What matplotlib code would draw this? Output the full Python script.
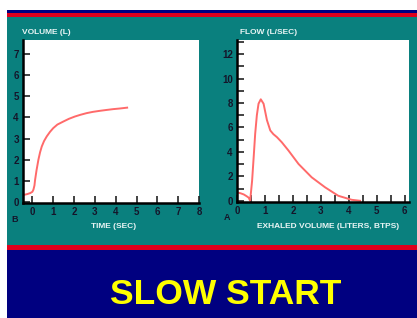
#!/usr/bin/env python3
"""Spirometry slide: volume-time and flow-volume curves, 'slow start'."""

import matplotlib
matplotlib.use("Agg")
import matplotlib.pyplot as plt
from matplotlib.patches import Rectangle
from matplotlib.ticker import MultipleLocator

# panel B: volume-time curve
time_sec = [-0.43, -0.25, -0.1, 0.0, 0.05, 0.1, 0.13, 0.2, 0.29, 0.37, 0.45, 0.56,
            0.69, 0.85, 1.0, 1.2, 1.48, 1.75, 2.04, 2.3, 2.6, 2.9, 3.24, 3.55, 3.88, 4.2, 4.55]
volume_l = [0.33, 0.37, 0.42, 0.48, 0.58, 0.78, 1.04, 1.5, 2.0, 2.35, 2.62, 2.88,
            3.1, 3.32, 3.49, 3.66, 3.8, 3.93, 4.04, 4.12, 4.2, 4.26, 4.31, 4.35, 4.39, 4.42, 4.46]

# panel A: flow-volume curve
exhaled_l = [0.01, 0.12, 0.24, 0.34, 0.42, 0.47, 0.54, 0.6, 0.65, 0.71, 0.77, 0.85,
             0.95, 1.07, 1.19, 1.3, 1.43, 1.6, 1.84, 2.2, 2.67, 3.15, 3.62, 4.1, 4.4]
flow_lps = [0.68, 0.62, 0.52, 0.38, 0.25, 0.0, 1.64, 3.7, 5.48, 7.0, 7.94, 8.3,
            7.94, 6.6, 5.75, 5.45, 5.2, 4.79, 4.11, 3.01, 1.92, 1.1, 0.41, 0.08, 0.0]

W, H = 417, 318
TEAL = "#0a807e"
NAVY = "#000080"
RED = "#e0001c"
CURVE = "#ff6a6a"


def band(fig, x0, y0, x1, y1, color):
    fig.add_artist(Rectangle((x0 / W, 1 - y1 / H), (x1 - x0) / W, (y1 - y0) / H,
                             transform=fig.transFigure, color=color, lw=0, zorder=-10))


def axes_px(fig, x0, y0, x1, y1):
    return fig.add_axes([x0 / W, 1 - y1 / H, (x1 - x0) / W, (y1 - y0) / H])


def style(ax):
    ax.set_facecolor("white")
    for side in ("top", "right"):
        ax.spines[side].set_visible(False)
    for side in ("left", "bottom"):
        ax.spines[side].set_linewidth(1.8)
        ax.spines[side].set_color("black")
    ax.tick_params(which="both", direction="in", length=5, width=1.2, color="#222222",
                   labelsize=7, labelcolor="#15152a", pad=3)
    for lab in ax.get_xticklabels() + ax.get_yticklabels():
        lab.set_fontweight("bold")


plt.rcParams["font.family"] = ["Liberation Sans", "DejaVu Sans"]

fig = plt.figure(figsize=(W / 100, H / 100), dpi=100)
fig.patch.set_facecolor("white")

band(fig, 7, 10, W, 13, NAVY)
band(fig, 7, 13, W, 17, RED)
band(fig, 7, 17, W, 245, TEAL)
band(fig, 7, 245, W, 250, RED)
band(fig, 7, 250, W, H, NAVY)

# left: volume vs time
ax1 = axes_px(fig, 23, 40, 199, 203)
ax1.plot(time_sec, volume_l, color=CURVE, lw=1.4)
ax1.set_xlim(-0.45, 8.0)
ax1.set_ylim(-0.05, 7.66)
ax1.xaxis.set_major_locator(MultipleLocator(1))
ax1.yaxis.set_major_locator(MultipleLocator(1))
style(ax1)

# right: flow vs exhaled volume
ax2 = axes_px(fig, 237, 40, 409, 202)
ax2.plot(exhaled_l, flow_lps, color=CURVE, lw=1.4)
ax2.set_xlim(0, 6.15)
ax2.set_ylim(-0.1, 13.15)
ax2.xaxis.set_major_locator(MultipleLocator(1))
ax2.xaxis.set_minor_locator(MultipleLocator(0.5))
ax2.yaxis.set_major_locator(MultipleLocator(2))
ax2.yaxis.set_minor_locator(MultipleLocator(1))
style(ax2)

lab = dict(fontsize=6, fontweight="bold", color="#e8f4f4")
fig.text(22 / W, 1 - 33 / H, "VOLUME (L)", ha="left", va="center", **lab)
fig.text(114 / W, 1 - 226 / H, "TIME (SEC)", ha="center", va="center", **lab)
fig.text(240 / W, 1 - 33 / H, "FLOW (L/SEC)", ha="left", va="center", **lab)
fig.text(328 / W, 1 - 226 / H, "EXHALED VOLUME (LITERS, BTPS)", ha="center", va="center", **lab)
fig.text(15 / W, 1 - 219 / H, "B", fontsize=6.5, fontweight="bold", color="#15152a",
         ha="center", va="center")
fig.text(227 / W, 1 - 217 / H, "A", fontsize=6.5, fontweight="bold", color="#15152a",
         ha="center", va="center")

fig.text(226 / W, 1 - 295 / H, "SLOW START", fontsize=25.5, fontweight="bold",
         color="#ffff00", ha="center", va="center")

fig.savefig("out.png", dpi=100)
plt.close(fig)
